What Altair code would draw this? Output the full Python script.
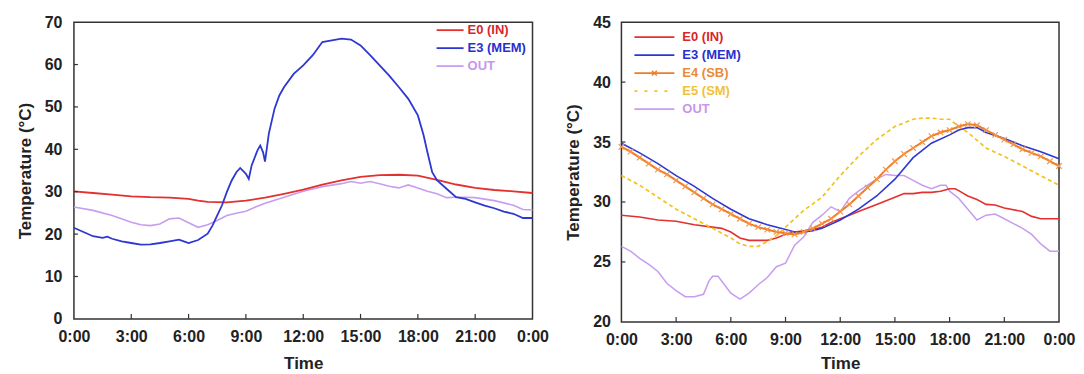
import altair as alt
import pandas as pd

FONT = "Liberation Sans"
TXT = "#222222"

HOUR_TICKS = [0, 3, 6, 9, 12, 15, 18, 21, 24]
INNER_X_TICKS = [3, 6, 9, 12, 15, 18, 21]

# ---------------- Left panel data ----------------
L_E0_H = [0, 1, 2, 3, 4, 5, 6, 6.5, 7, 8, 9, 10, 11, 12, 13, 14, 15, 16, 17, 18, 19, 20, 21, 22, 23, 24]
L_E0_V = [30.1, 29.7, 29.3, 28.9, 28.7, 28.6, 28.3, 27.9, 27.6, 27.5, 27.9, 28.6, 29.5, 30.5, 31.7, 32.7,
          33.5, 33.9, 34.0, 33.8, 32.8, 31.7, 30.9, 30.4, 30.1, 29.7]

L_E3_H = [0, 0.5, 1, 1.5, 1.75, 2, 2.5, 3, 3.5, 4, 4.5, 5, 5.5, 5.75, 6, 6.5, 7, 7.25, 7.5, 7.75, 8, 8.25,
          8.5, 8.7, 9, 9.15, 9.3, 9.6, 9.75, 9.9, 10, 10.2, 10.5, 10.75, 11, 11.5, 12, 12.5, 13, 13.5, 14,
          14.5, 15, 15.5, 16, 16.5, 17, 17.5, 18, 18.3, 18.5, 18.75, 19, 19.5, 20, 20.5, 21, 21.5, 22, 22.5,
          23, 23.5, 24]
L_E3_V = [21.5, 20.5, 19.5, 19.1, 19.4, 18.9, 18.3, 17.9, 17.5, 17.6, 17.9, 18.3, 18.7, 18.3, 17.9, 18.6,
          20.1, 22.0, 24.4, 26.8, 29.9, 32.6, 34.6, 35.6, 34.2, 33.0, 36.2, 39.7, 40.9, 39.3, 37.1, 43.7,
          49.6, 52.7, 54.7, 57.8, 59.8, 62.2, 65.3, 65.7, 66.1, 65.9, 64.5, 62.2, 59.8, 57.4, 54.7, 51.9,
          48.0, 43.3, 39.3, 34.6, 32.7, 30.7, 28.7, 28.3, 27.5, 26.7, 26.1, 25.3, 24.8, 23.8, 23.8]

L_OUT_H = [0, 1, 2, 3, 3.5, 4, 4.5, 5, 5.5, 6, 6.5, 7, 7.5, 8, 8.5, 9, 9.5, 10, 11, 12, 13, 14, 14.5, 15,
           15.5, 16, 16.5, 17, 17.5, 18, 18.5, 19, 19.5, 20, 20.5, 21, 22, 23, 23.5, 24]
L_OUT_V = [26.4, 25.6, 24.4, 22.8, 22.2, 22.0, 22.4, 23.6, 23.8, 22.7, 21.6, 22.2, 23.2, 24.4, 24.9, 25.4,
           26.4, 27.3, 28.7, 30.1, 31.2, 31.9, 32.4, 32.0, 32.4, 31.9, 31.3, 30.9, 31.6, 30.9, 30.1, 29.5,
           28.6, 28.7, 28.7, 28.6, 27.9, 26.8, 25.8, 25.7]

# ---------------- Right panel data ----------------
R_E0_H = [0, 1, 2, 3, 4, 5, 5.5, 6, 6.5, 7, 7.5, 8, 8.5, 9, 9.5, 10, 10.5, 11, 11.5, 12, 12.5, 13, 14, 15,
          15.5, 16, 16.5, 17, 17.5, 18, 18.3, 18.5, 19, 19.5, 20, 20.5, 21, 22, 22.5, 23, 24]
R_E0_V = [28.9, 28.75, 28.5, 28.4, 28.1, 27.9, 27.8, 27.5, 27.0, 26.8, 26.8, 26.8, 27.0, 27.3, 27.5, 27.6,
          27.7, 27.9, 28.3, 28.6, 28.9, 29.2, 29.8, 30.4, 30.7, 30.7, 30.8, 30.8, 30.9, 31.1, 31.1, 30.95,
          30.5, 30.2, 29.8, 29.75, 29.5, 29.2, 28.8, 28.6, 28.6]

R_E3_H = [0, 1, 2, 3, 4, 5, 6, 7, 8, 9, 9.5, 10, 10.5, 11, 12, 13, 14, 15, 16, 17, 18, 18.5, 19, 19.5, 20,
          21, 22, 23, 24]
R_E3_V = [34.9, 34.1, 33.2, 32.2, 31.3, 30.3, 29.4, 28.6, 28.1, 27.7, 27.5, 27.5, 27.6, 27.8, 28.5, 29.4,
          30.5, 31.9, 33.7, 34.9, 35.6, 36.0, 36.2, 36.2, 35.8, 35.3, 34.7, 34.2, 33.6]

R_E4_H = [0, 0.5, 1, 1.5, 2, 2.5, 3, 3.5, 4, 4.5, 5, 5.5, 6, 6.5, 7, 7.5, 8, 8.5, 9, 9.5, 10, 10.5, 11,
          11.5, 12, 12.5, 13, 13.5, 14, 14.5, 15, 15.5, 16, 16.5, 17, 17.5, 18, 18.5, 19, 19.5, 20, 20.5,
          21, 21.5, 22, 22.5, 23, 23.5, 24]
R_E4_V = [34.6, 34.2, 33.7, 33.2, 32.7, 32.3, 31.8, 31.3, 30.8, 30.3, 29.8, 29.4, 29.0, 28.6, 28.2, 27.9,
          27.7, 27.5, 27.4, 27.3, 27.5, 27.8, 28.2, 28.6, 29.2, 29.8, 30.5, 31.2, 31.9, 32.7, 33.4, 34.0,
          34.5, 35.0, 35.5, 35.8, 36.0, 36.3, 36.5, 36.4, 36.0, 35.6, 35.2, 34.8, 34.4, 34.1, 33.8, 33.4,
          33.0]

R_E5_H = [0, 1, 2, 3, 4, 5, 6, 6.5, 7, 7.5, 8, 8.5, 9, 9.5, 10, 11, 12, 13, 14, 15, 16, 16.5, 17, 17.5,
          18, 18.5, 19, 20, 21, 22, 23, 24]
R_E5_V = [32.2, 31.4, 30.4, 29.4, 28.6, 27.8, 27.0, 26.5, 26.3, 26.3, 26.7, 27.2, 27.9, 28.6, 29.3, 30.4,
          32.2, 33.8, 35.2, 36.3, 36.9, 37.0, 37.0, 36.9, 36.9, 36.3, 35.8, 34.5, 33.8, 33.0, 32.2, 31.4]

R_OUT_H = [0, 0.5, 1, 1.5, 2, 2.5, 3, 3.5, 4, 4.5, 4.8, 5, 5.3, 5.6, 6, 6.5, 7, 7.5, 8, 8.5, 9, 9.5, 10,
           10.5, 11, 11.5, 12, 12.5, 13, 13.5, 14, 14.5, 15, 15.5, 16, 16.5, 17, 17.5, 17.8, 18, 18.5, 19,
           19.5, 20, 20.5, 21, 21.5, 22, 22.5, 23, 23.5, 24]
R_OUT_V = [26.3, 25.9, 25.3, 24.8, 24.2, 23.2, 22.6, 22.1, 22.1, 22.3, 23.4, 23.8, 23.8, 23.2, 22.4, 21.9,
           22.4, 23.1, 23.7, 24.6, 24.9, 26.4, 27.1, 28.3, 28.9, 29.6, 29.2, 30.3, 30.9, 31.4, 31.9, 32.3,
           32.2, 32.2, 31.8, 31.4, 31.1, 31.4, 31.4, 30.9, 30.3, 29.4, 28.5, 28.9, 29.0, 28.6, 28.2, 27.8,
           27.3, 26.5, 25.9, 25.9]

COLORS = {
    "E0 (IN)": "#e3312f",
    "E3 (MEM)": "#2d38d2",
    "E4 (SB)": "#f07d22",
    "E5 (SM)": "#f2c21e",
    "OUT": "#c79df0",
}
LABEL_COLORS = {
    "E0 (IN)": "#d8262a",
    "E3 (MEM)": "#2a2fd0",
    "E4 (SB)": "#ea8a3c",
    "E5 (SM)": "#f0c23a",
    "OUT": "#c896ee",
}

X_CROSS = "M-1,-1L1,1M-1,1L1,-1"


def df(hours, vals):
    return pd.DataFrame({"h": hours, "v": vals})


def panel(series, ydomain, yticks, width, height, ylabelpad, xtitlepad, legend_x, legend_y0, line_len, text_gap):
    x = alt.X("h:Q", scale=alt.Scale(domain=[0, 24], nice=False, zero=False),
              axis=alt.Axis(values=HOUR_TICKS, title="Time",
                            labelExpr="datum.value == 24 ? '0:00' : datum.value + ':00'",
                            labelPadding=10, titlePadding=xtitlepad, labelFlush=False,
                            labelOverlap=False))
    y = alt.Y("v:Q", scale=alt.Scale(domain=ydomain, nice=False, zero=False),
              axis=alt.Axis(values=yticks, title="Temperature (°C)", labelPadding=ylabelpad,
                            titlePadding=10, labelOverlap=False, labelFlush=False))
    layers = []
    for name, hours, vals, dash, sw in series:
        kw = dict(color=COLORS[name], strokeWidth=sw)
        if dash:
            kw["strokeDash"] = dash
        layers.append(alt.Chart(df(hours, vals)).mark_line(**kw).encode(x=x, y=y))
        if name == "E4 (SB)":
            layers.append(alt.Chart(df(hours, vals)).mark_point(
                shape=X_CROSS, size=30, filled=False, color="#f3964a", strokeWidth=1.2, opacity=1
            ).encode(x=x, y=y))
    # inward ticks
    layers.append(alt.Chart(pd.DataFrame({"h": INNER_X_TICKS})).mark_rule(color="#333", strokeWidth=1.2)
                  .encode(x=x, y=alt.value(height), y2=alt.value(height - 5)))
    inner_y = [t for t in yticks if t not in (ydomain[0], ydomain[1])]
    layers.append(alt.Chart(pd.DataFrame({"v": inner_y})).mark_rule(color="#333", strokeWidth=1.2)
                  .encode(y=y, x=alt.value(0), x2=alt.value(4)))
    # legend
    order = [s[0] for s in series]
    legend_order = [n for n in ["E0 (IN)", "E3 (MEM)", "E4 (SB)", "E5 (SM)", "OUT"] if n in order]
    for i, name in enumerate(legend_order):
        yy = legend_y0 + i * 18
        rkw = dict(color=COLORS[name], strokeWidth=1.8)
        if name == "E5 (SM)":
            rkw["strokeDash"] = [3, 7]
        layers.append(alt.Chart(alt.Data(values=[{"name": name}])).mark_rule(**rkw).encode(
            x=alt.value(legend_x), x2=alt.value(legend_x + line_len), y=alt.value(yy)))
        if name == "E4 (SB)":
            layers.append(alt.Chart(alt.Data(values=[{"name": name}])).mark_point(
                shape=X_CROSS, size=24, filled=False, color=COLORS[name], strokeWidth=1.4, opacity=1
            ).encode(x=alt.value(legend_x + line_len / 2), y=alt.value(yy)))
        layers.append(alt.Chart(alt.Data(values=[{"name": name}])).mark_text(
            align="left", baseline="middle", font=FONT, fontSize=13, fontWeight="bold",
            color=LABEL_COLORS[name]
        ).encode(x=alt.value(legend_x + line_len + text_gap), y=alt.value(yy), text=alt.Text("name:N")))
    return alt.layer(*layers).properties(width=width, height=height)


left = panel(
    [
        ("OUT", L_OUT_H, L_OUT_V, None, 1.6),
        ("E0 (IN)", L_E0_H, L_E0_V, None, 1.8),
        ("E3 (MEM)", L_E3_H, L_E3_V, None, 1.8),
    ],
    [0, 70], [0, 10, 20, 30, 40, 50, 60, 70], 459, 297, 12, 11, 363, 8, 27, 4,
)

right = panel(
    [
        ("OUT", R_OUT_H, R_OUT_V, None, 1.5),
        ("E0 (IN)", R_E0_H, R_E0_V, None, 1.6),
        ("E3 (MEM)", R_E3_H, R_E3_V, None, 1.6),
        ("E5 (SM)", R_E5_H, R_E5_V, [4, 3], 1.7),
        ("E4 (SB)", R_E4_H, R_E4_V, None, 2.0),
    ],
    [20, 45], [20, 25, 30, 35, 40, 45], 438, 300, 11, 8, 13, 15, 40, 8,
)

chart = alt.hconcat(left, right, spacing=14).resolve_scale(x="independent", y="independent").configure(
    padding={"left": 7, "top": 5, "right": 0, "bottom": 0},
    background="white",
).configure_view(
    stroke="#333333", strokeWidth=1.5
).configure_axis(
    labelFont=FONT, labelFontSize=16, labelFontWeight="bold", labelColor=TXT,
    titleFont=FONT, titleFontSize=17, titleFontWeight="bold", titleColor=TXT,
    ticks=False, domain=False, grid=False,
)

chart.save("out.html", embed_options={"renderer": "svg", "actions": False})
